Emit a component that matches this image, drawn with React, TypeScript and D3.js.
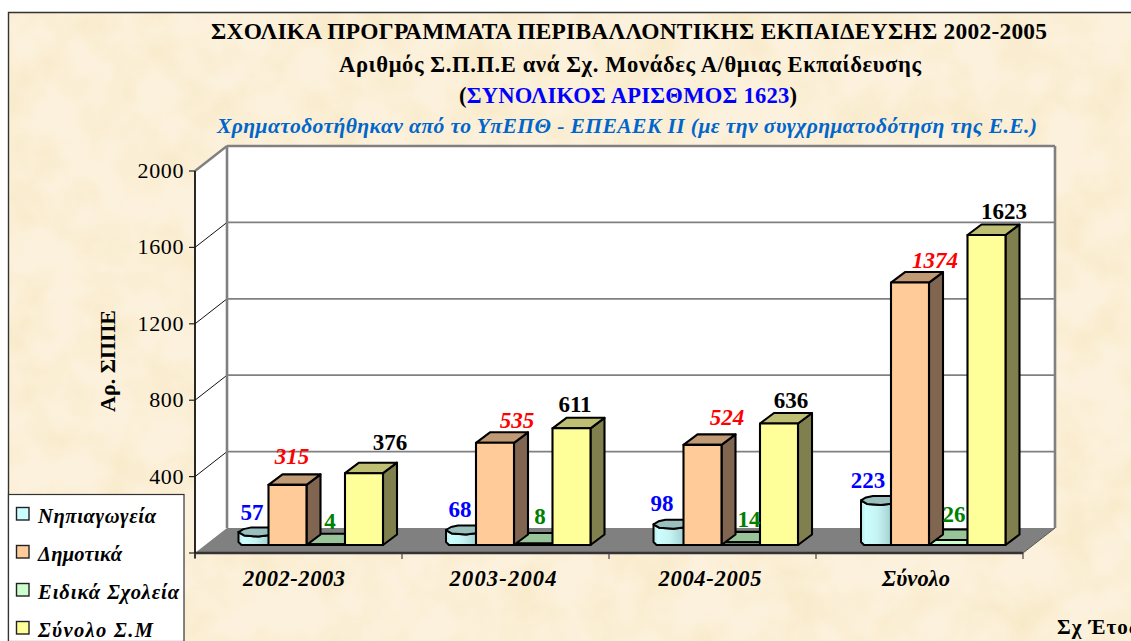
import React from "react";
import * as d3 from "d3";

const categories = ["2002-2003", "2003-2004", "2004-2005", "Σύνολο"];
const nipiagogeia = [57, 68, 98, 223];
const dimotika = [315, 535, 524, 1374];
const eidika = [4, 8, 14, 26];
const synolo = [376, 611, 636, 1623];
const yTicks = [0, 400, 800, 1200, 1600, 2000];
const legendLabels = ["Νηπιαγωγεία", "Δημοτικά", "Ειδικά Σχολεία", "Σύνολο Σ.Μ"];

// layout tables (px), separate from the data
const catLabelX = [294, 503, 710, 916];
const catLabelW = [102, 107, 103, 68];
const legendW = [118, 84, 141, 115];
const blueLabel = [[252, 520], [460, 517], [662, 511], [868, 488]];
const orangeLabel = [[292, 464], [517, 428], [727, 425], [935, 268]];
const greenLabel = [[330, 529], [540, 524], [749, 527], [954, 522]];
const yellowLabel = [[390, 450], [575, 412], [791, 408], [1004, 219]];

const serif = "'Liberation Serif','Times New Roman',serif";
const W = 1131, H = 641;
const left = 195, right = 1023, base = 553, top = 171;
const depthX = 32, depthY = -25;
const barDY = -8, barW = 38, dpX = 14, dpY = -10.5;

const y = d3.scaleLinear().domain([0, 2000]).range([base, top]);
const axisX = d3.scaleBand<string>().domain(categories).range([left, right]);
const barX = d3.scaleBand<string>().domain(categories).range([left, left + 830]);

const poly = (pts: number[][]) => d3.line()(pts as any) + "Z";

function Box({ x, v, front, topC, sideC }: any) {
  const yt = y(v) + barDY, yb = base + barDY;
  return (
    <g stroke="#000" strokeWidth={2.1} strokeLinejoin="round">
      <path d={poly([[x + barW, yt], [x + barW + dpX, yt + dpY], [x + barW + dpX, yb + dpY], [x + barW, yb]])} fill={sideC} />
      <path d={poly([[x, yt], [x + dpX, yt + dpY], [x + barW + dpX, yt + dpY], [x + barW, yt]])} fill={topC} />
      <rect x={x} y={yt} width={barW} height={yb - yt} fill={front} />
    </g>
  );
}

function Cyl({ x, v }: any) {
  const yt = y(v) + barDY, yb = base + barDY;
  const w = barW;
  const rim = [[x, yt - 2], [x + 6, yt + 1.5], [x + 20, yt + 2.5], [x + 32, yt + 1], [x + w, yt - 3]];
  const back = [[x + w, yt - 3], [x + 30, yt - 6.5], [x + 12, yt - 6.5], [x + 5, yt - 5], [x, yt - 2]];
  const body = [[x, yt - 2], [x, yb - 3], [x + 3, yb], [x + 30, yb], [x + w, yb - 3], [x + w, yt - 3], ...rim.slice().reverse().slice(1)];
  return (
    <g stroke="#000" strokeWidth={2} strokeLinejoin="round">
      <path d={poly(body)} fill="url(#cyl)" />
      <path d={poly([...rim, ...back.slice(1, -1)])} fill="#99BFBF" />
    </g>
  );
}

export default function App() {
  const series = categories.map((c, i) => ({ c, i, bx: barX(c)! }));
  return (
    <svg width={W} height={H} viewBox={`0 0 ${W} ${H}`} style={{ position: "absolute", left: 0, top: 0, fontFamily: serif }}>
      <defs>
        <filter id="mottle" x="0" y="0" width="100%" height="100%">
          <feTurbulence type="fractalNoise" baseFrequency="0.022" numOctaves={3} seed={7} />
          <feColorMatrix type="matrix" values="0 0 0 0 0.90  0 0 0 0 0.76  0 0 0 0 0.45  1.6 0 0 0 -0.6" />
        </filter>
        <linearGradient id="cyl" x1="0" x2="1" y1="0" y2="0">
          <stop offset="0" stopColor="#B8E8E8" />
          <stop offset="0.12" stopColor="#CCFFFF" />
          <stop offset="0.45" stopColor="#C4F2F2" />
          <stop offset="0.8" stopColor="#A3D0D0" />
          <stop offset="1" stopColor="#8FB8B8" />
        </linearGradient>
      </defs>

      <rect x={0} y={0} width={W} height={H} fill="#fff" />
      <rect x={8} y={12} width={W - 8} height={H - 12} fill="#FCF1DC" />
      <rect x={8} y={12} width={W - 8} height={H - 12} filter="url(#mottle)" opacity={0.6} />
      <path d={`M8.5,${H} V12.5 H${W}`} fill="none" stroke="#333" strokeWidth={1.4} />

      {/* titles */}
      <g fontWeight="bold" textAnchor="start">
        <text x={211} y={39} fontSize={23.4} textLength={836} lengthAdjust="spacing">ΣΧΟΛΙΚΑ ΠΡΟΓΡΑΜΜΑΤΑ ΠΕΡΙΒΑΛΛΟΝΤΙΚΗΣ ΕΚΠΑΙΔΕΥΣΗΣ 2002-2005</text>
        <text x={339} y={72} fontSize={22.6} textLength={582} lengthAdjust="spacing">Αριθμός Σ.Π.Π.Ε ανά Σχ. Μονάδες Α/θμιας Εκπαίδευσης</text>
        <text x={459} y={103} fontSize={22.6} textLength={338} lengthAdjust="spacing">(<tspan fill="#0000FF">ΣΥΝΟΛΙΚΟΣ ΑΡΙΣΘΜΟΣ 1623</tspan>)</text>
        <text x={217} y={133} fontSize={21.6} fontStyle="italic" fill="#0066CC" textLength={820} lengthAdjust="spacing">Χρηματοδοτήθηκαν από το ΥπΕΠΘ - ΕΠΕΑΕΚ ΙΙ (με την συγχρηματοδότηση της Ε.Ε.)</text>
      </g>

      {/* walls */}
      <path d={`M${left},${top} L${left + depthX},${top + depthY} H${right + depthX} V${base + depthY} H${left + depthX} L${left},${base} Z`} fill="#fff" />
      {yTicks.filter(t => t > 0).map(t => (
        <g key={t}>
          <line x1={left + depthX} x2={right + depthX} y1={y(t) + depthY} y2={y(t) + depthY} stroke="#808080" strokeWidth={t === 2000 ? 2.4 : 1.8} />
          <line x1={left} x2={left + depthX} y1={y(t)} y2={y(t) + depthY} stroke={t === 2000 ? "#808080" : "#111"} strokeWidth={t === 2000 ? 2.4 : 1} />
        </g>
      ))}
      <line x1={left + depthX} x2={left + depthX} y1={top + depthY} y2={base + depthY} stroke="#808080" strokeWidth={2.6} />
      <line x1={right + depthX} x2={right + depthX} y1={top + depthY} y2={base + depthY} stroke="#808080" strokeWidth={2.6} />

      {/* floor */}
      <path d={`M${left},${base} L${left + depthX},${base + depthY} H${right + depthX} L${right},${base} Z`} fill="#808080" />
      <line x1={left} x2={right} y1={base} y2={base} stroke="#333" strokeWidth={2.6} />
      <line x1={right} x2={right + depthX} y1={base} y2={base + depthY} stroke="#555" strokeWidth={1} />

      {/* axes */}
      <line x1={left} x2={left} y1={top} y2={base + 5} stroke="#111" strokeWidth={1.8} />
      {yTicks.map(t => (
        <g key={t}>
          <line x1={left - 6} x2={left} y1={y(t)} y2={y(t)} stroke="#222" strokeWidth={1.2} />
          {t > 0 && <text x={184} y={y(t) + 7} fontSize={22} textAnchor="end" fill="#000" letterSpacing={0.6}>{t}</text>}
        </g>
      ))}
      {categories.concat("end").map((c, i) => {
        const x = i < categories.length ? axisX(c)! : right;
        return <line key={c} x1={x} x2={x} y1={base} y2={base + 6} stroke="#444" strokeWidth={1.2} />;
      })}

      {/* bars */}
      {series.map(({ c, i, bx }) => (
        <g key={c}>
          <Cyl x={bx + 43.5} v={nipiagogeia[i]} />
          <Box x={bx + 112} v={eidika[i]} front="#CCFFCC" topC="#99C399" sideC="#667F66" />
          <Box x={bx + 73.5} v={dimotika[i]} front="#FFCC99" topC="#C09A75" sideC="#806650" />
          <Box x={bx + 150} v={synolo[i]} front="#FFFF99" topC="#BFBF73" sideC="#80804F" />
        </g>
      ))}

      {/* value labels */}
      <g fontWeight="bold" fontSize={23} textAnchor="middle">
        {categories.map((c, i) => (
          <g key={c}>
            <text x={blueLabel[i][0]} y={blueLabel[i][1]} fill="#0000FF">{nipiagogeia[i]}</text>
            <text x={orangeLabel[i][0]} y={orangeLabel[i][1]} fill="#FF0000" fontStyle="italic">{dimotika[i]}</text>
            <text x={greenLabel[i][0]} y={greenLabel[i][1]} fill="#008000">{eidika[i]}</text>
            <text x={yellowLabel[i][0]} y={yellowLabel[i][1]} fill="#000">{synolo[i]}</text>
          </g>
        ))}
      </g>

      {/* category labels */}
      <g fontWeight="bold" fontStyle="italic" fontSize={22.5}>
        {categories.map((c, i) => (
          <text key={c} x={catLabelX[i] - catLabelW[i] / 2} y={586} textLength={catLabelW[i]} lengthAdjust="spacing">{c}</text>
        ))}
      </g>

      {/* axis titles */}
      <text transform="translate(115,412) rotate(-90)" fontWeight="bold" fontSize={22} textLength={102} lengthAdjust="spacing">Αρ. ΣΠΠΕ</text>
      <text x={1057} y={634} fontWeight="bold" fontSize={21} letterSpacing={1}>Σχ Έτος</text>

      {/* legend */}
      <rect x={8.5} y={494.5} width={175.5} height={H - 494} fill="#fff" stroke="#333" strokeWidth={1.2} />
      {legendLabels.map((l, i) => {
        const swatch = ["#CCFFFF", "#FFCC99", "#CCFFCC", "#FFFF99"][i];
        const ly = 514 + i * 38;
        return (
          <g key={l}>
            <rect x={16.5} y={ly - 6.5} width={12.5} height={12.5} fill={swatch} stroke="#222" strokeWidth={1.4} />
            <text x={38} y={ly + 9} fontSize={20.5} fontWeight="bold" fontStyle="italic" textLength={legendW[i]} lengthAdjust="spacing">{l}</text>
          </g>
        );
      })}
    </svg>
  );
}
